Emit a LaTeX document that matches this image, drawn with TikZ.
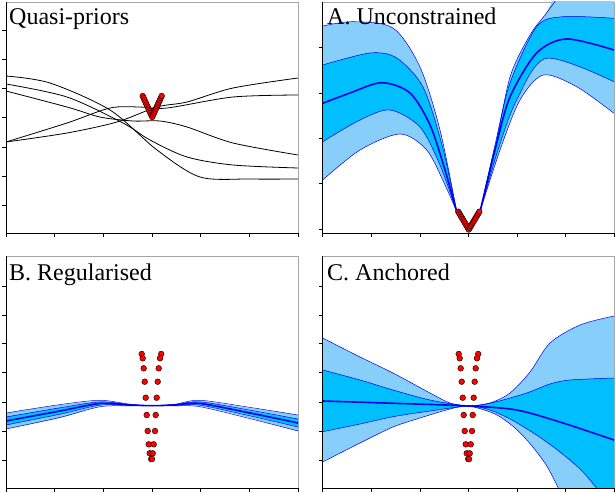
\documentclass[tikz,border=0pt]{standalone}
\usepackage{fontspec}
\setmainfont{Liberation Serif}
\definecolor{lband}{RGB}{135,206,250}
\definecolor{dband}{RGB}{0,191,255}
\definecolor{bline}{RGB}{0,0,235}
\begin{document}
\begin{tikzpicture}[x=1pt,y=-1pt,
  axisline/.style={black,line width=0.8pt},
  frameline/.style={gray!70,line width=0.6pt},
  tick/.style={black,line width=0.6pt},
  curve/.style={black,line width=0.8pt},
  bandline/.style={bline,line width=0.5pt},
  meanline/.style={bline,line width=1.6pt},
  dot/.style={circle,fill=red,draw=black,line width=0.4pt,inner sep=0pt,minimum size=5.8pt},
  ttl/.style={anchor=base west,font=\fontsize{24}{24}\selectfont,inner sep=0pt}]
\useasboundingbox (0,0) rectangle (616,492);
% ---------- frames
\foreach \xa/\xb/\ya/\yb in {6/298/2/233, 322.7/614/2/233, 6/298/256/488, 322.7/614/256/488}{
  \draw[frameline] (\xa,\ya) -- (\xb,\ya) -- (\xb,\yb);
}
% ---------- Panel TL
\begin{scope}
\clip (6,2) rectangle (298,233);
\draw[curve] plot[smooth] coordinates {(6,76) (50,83) (110,110) (157,150) (200,177) (250,179) (298,179)};
\draw[curve] plot[smooth] coordinates {(6,84) (67,97) (123,123) (150,140) (187,157) (233,165) (298,168)};
\draw[curve] plot[smooth] coordinates {(6,91) (67,107) (100,117) (133,121) (160,121) (187,127) (233,143) (298,155)};
\draw[curve] plot[smooth] coordinates {(6,142) (67,123) (110,108) (140,107) (167,108) (233,97) (298,95)};
\draw[curve] plot[smooth] coordinates {(6,142) (67,133) (117,122) (157,107) (187,102) (233,88) (298,78)};
\end{scope}
\foreach \t in {-1,-0.9,...,1.01}{
  \pgfmathsetmacro{\px}{152.2+9.5*\t}
  \pgfmathsetmacro{\py}{117-21*abs(\t)}
  \node[dot] at (\px,\py) {};
}
\node[ttl] (t1) at (9,25) {Quasi-priors};
% ---------- Panel A
\begin{scope}
\clip (322.7,2) rectangle (614,233);
\fill[lband] plot[smooth] coordinates {(322.7,26) (353,21.7) (393,28) (420,67) (440,130) (456.7,211.7)}
  -- plot[smooth] coordinates {(456.7,211.7) (445,185) (426.7,150) (400,134) (360,150) (322.7,180)} -- cycle;
\fill[dband] plot[smooth] coordinates {(322.7,65) (370,53) (396.7,58) (423,87) (442,145) (456.7,211.7)}
  -- plot[smooth] coordinates {(456.7,211.7) (440,165) (420,127) (390,110) (360,120) (322.7,141.7)} -- cycle;
\fill[lband] plot[smooth] coordinates {(480,211.7) (495,150) (510,77) (530,35) (545,15) (562,-8) (614,-8)}
  -- plot[smooth] coordinates {(614,113.3) (576.7,86.7) (543.3,75) (520,100) (500,150) (480,211.7)} -- cycle;
\fill[dband] plot[smooth] coordinates {(480,211.7) (495,145) (510,83) (536.7,26.7) (563,16.7) (614,18.3)}
  -- plot[smooth] coordinates {(614,81.7) (546.7,58.3) (516.7,100) (498,150) (480,211.7)} -- cycle;
\draw[bandline] plot[smooth] coordinates {(322.7,26) (353,21.7) (393,28) (420,67) (440,130) (456.7,211.7)};
\draw[bandline] plot[smooth] coordinates {(322.7,180) (360,150) (400,134) (426.7,150) (445,185) (456.7,211.7)};
\draw[bandline] plot[smooth] coordinates {(322.7,65) (370,53) (396.7,58) (423,87) (442,145) (456.7,211.7)};
\draw[bandline] plot[smooth] coordinates {(322.7,141.7) (360,120) (390,110) (420,127) (440,165) (456.7,211.7)};
\draw[bandline] plot[smooth] coordinates {(480,211.7) (495,150) (510,77) (530,35) (545,15) (562,-8)};
\draw[bandline] plot[smooth] coordinates {(480,211.7) (495,145) (510,83) (536.7,26.7) (563,16.7) (614,18.3)};
\draw[bandline] plot[smooth] coordinates {(480,211.7) (498,150) (516.7,100) (546.7,58.3) (614,81.7)};
\draw[bandline] plot[smooth] coordinates {(480,211.7) (500,150) (520,100) (543.3,75) (576.7,86.7) (614,113.3)};
\draw[meanline] plot[smooth] coordinates {(322.7,103.3) (350,93) (381.7,82.7) (410,93) (430,125) (445,170) (456.7,211.7)};
\draw[meanline] plot[smooth] coordinates {(480,211.7) (495,150) (510,97) (536.7,53) (566.7,39) (614,50)};
\draw[meanline] (456.7,211.7) -- (468.7,229.5) -- (480,211.7);
\end{scope}
\foreach \t in {-1,-0.9,...,1.01}{
  \pgfmathsetmacro{\px}{468.8+10.5*\t}
  \pgfmathsetmacro{\py}{229.5-17.8*abs(\t)}
  \node[dot] at (\px,\py) {};
}
\node[ttl] (t2) at (327,25) {A. Unconstrained};
% ---------- Panel B
\begin{scope}
\clip (6,256) rectangle (298,488);
\fill[lband] plot[smooth] coordinates {(6,413) (60,405) (100,401) (130,404.5) (152,405.5) (175,404.5) (200,401) (250,408) (298,415)}
  -- plot[smooth] coordinates {(298,431) (250,418) (200,406) (175,405.5) (152,406) (130,405.5) (100,406) (60,418) (6,429)} -- cycle;
\fill[dband] plot[smooth] coordinates {(6,417) (60,408) (100,402) (130,404.7) (152,405.7) (175,404.7) (200,402) (250,411) (298,419)}
  -- plot[smooth] coordinates {(298,427) (250,415) (200,404.5) (175,405) (152,405.8) (130,405) (100,404.5) (60,414) (6,425)} -- cycle;
\foreach \o in {-8,-4,4,8}{
  \draw[bandline] plot[smooth] coordinates {(6,421+\o) (60,411+0.8*\o) (100,403.5+0.4*\o) (130,405+0.1*\o) (152,405.7) (175,405+0.1*\o) (200,403.5+0.4*\o) (250,413+0.7*\o) (298,423+\o)};
}
\draw[meanline] plot[smooth] coordinates {(6,421) (60,411) (100,403.5) (130,405) (152,405.7) (175,405) (200,403.5) (250,413) (298,423)};
\end{scope}
\foreach \dl/\dr/\yy in {-10/9.5/354, -9/8.3/358.3, -8/7/368.3, -7/6/381.7, -6/5/397.7, -5/4/415, -4/3.3/431, -3/2/444.3, -2/1/453.3, -0.5/0.3/459}{
  \node[dot] at (151.7+\dl,\yy) {};
  \node[dot] at (151.7+\dr,\yy) {};
}
\node[ttl] (t3) at (9,280) {B. Regularised};
% ---------- Panel C
\begin{scope}
\clip (322.7,256) rectangle (614,488);
\fill[lband] plot[smooth] coordinates {(322.7,338) (360,357) (393,373) (430,393) (450,403) (468.7,406)}
  -- plot[smooth] coordinates {(468.7,406) (450,409) (420,418) (393,427) (360,443) (322.7,462)} -- cycle;
\fill[dband] plot[smooth] coordinates {(322.7,370) (360,380) (393,390) (430,400) (468.7,406)}
  -- plot[smooth] coordinates {(468.7,406) (430,411) (393,416.7) (360,424) (322.7,431.7)} -- cycle;
\fill[lband] plot[smooth] coordinates {(468.7,406) (490,403) (510,393) (530,372) (550,343) (580,325) (614,316)}
  -- (614,500) -- plot[smooth] coordinates {(564,500) (548,468) (532,446) (515,428) (495,414) (468.7,406)} -- cycle;
\fill[dband] plot[smooth] coordinates {(468.7,406) (495,402) (526.7,393) (550,384) (570,380) (614,378)}
  -- (614,500) -- plot[smooth] coordinates {(606,500) (583,472) (560,452) (538,436) (512,420) (490,410) (468.7,406)} -- cycle;
\draw[bandline] plot[smooth] coordinates {(322.7,338) (360,357) (393,373) (430,393) (450,403) (468.7,406) (490,403) (510,393) (530,372) (550,343) (580,325) (614,316)};
\draw[bandline] plot[smooth] coordinates {(322.7,370) (360,380) (393,390) (430,400) (468.7,406) (495,402) (526.7,393) (550,384) (570,380) (614,378)};
\draw[bandline] plot[smooth] coordinates {(322.7,431.7) (360,424) (393,416.7) (430,411) (468.7,406) (490,410) (512,420) (538,436) (560,452) (583,472) (606,500)};
\draw[bandline] plot[smooth] coordinates {(322.7,462) (360,443) (393,427) (420,418) (450,409) (468.7,406) (495,414) (515,428) (532,446) (548,468) (564,500)};
\draw[meanline] plot[smooth] coordinates {(322.7,401) (400,403.5) (468.7,406) (516.7,410) (563,423) (614,440)};
\end{scope}
\foreach \dl/\dr/\yy in {-10/9.5/354, -9/8.3/358.3, -8/7/368.3, -7/6/381.7, -6/5/397.7, -5/4/415, -4/3.3/431, -3/2/444.3, -2/1/453.3, -0.5/0.3/459}{
  \node[dot] at (468.7+\dl,\yy) {};
  \node[dot] at (468.7+\dr,\yy) {};
}
\node[ttl] (t4) at (327,280) {C. Anchored};
% ---------- axes and ticks
\foreach \xa/\xb/\ya/\yb in {6/298/2/233, 322.7/614/2/233, 6/298/256/488, 322.7/614/256/488}{
  \draw[axisline] (\xa,\ya) -- (\xa,\yb) -- (\xb,\yb);
  \foreach \i in {0,...,6}{
    \pgfmathsetmacro{\tx}{\xa+\i*(\xb-\xa)/6}
    \draw[tick] (\tx,\yb) -- (\tx,\yb+4);
  }
}
\foreach \yy in {30,59,88,117,147,176,205}{\draw[tick] (6,\yy) -- (2,\yy);}
\foreach \yy in {47,93,138,183,229}{\draw[tick] (322.7,\yy) -- (318.7,\yy);}
\foreach \yy in {286,315,343,372,402,431,460}{\draw[tick] (6,\yy) -- (2,\yy); \draw[tick] (322.7,\yy) -- (318.7,\yy);}
\end{tikzpicture}
\end{document}
